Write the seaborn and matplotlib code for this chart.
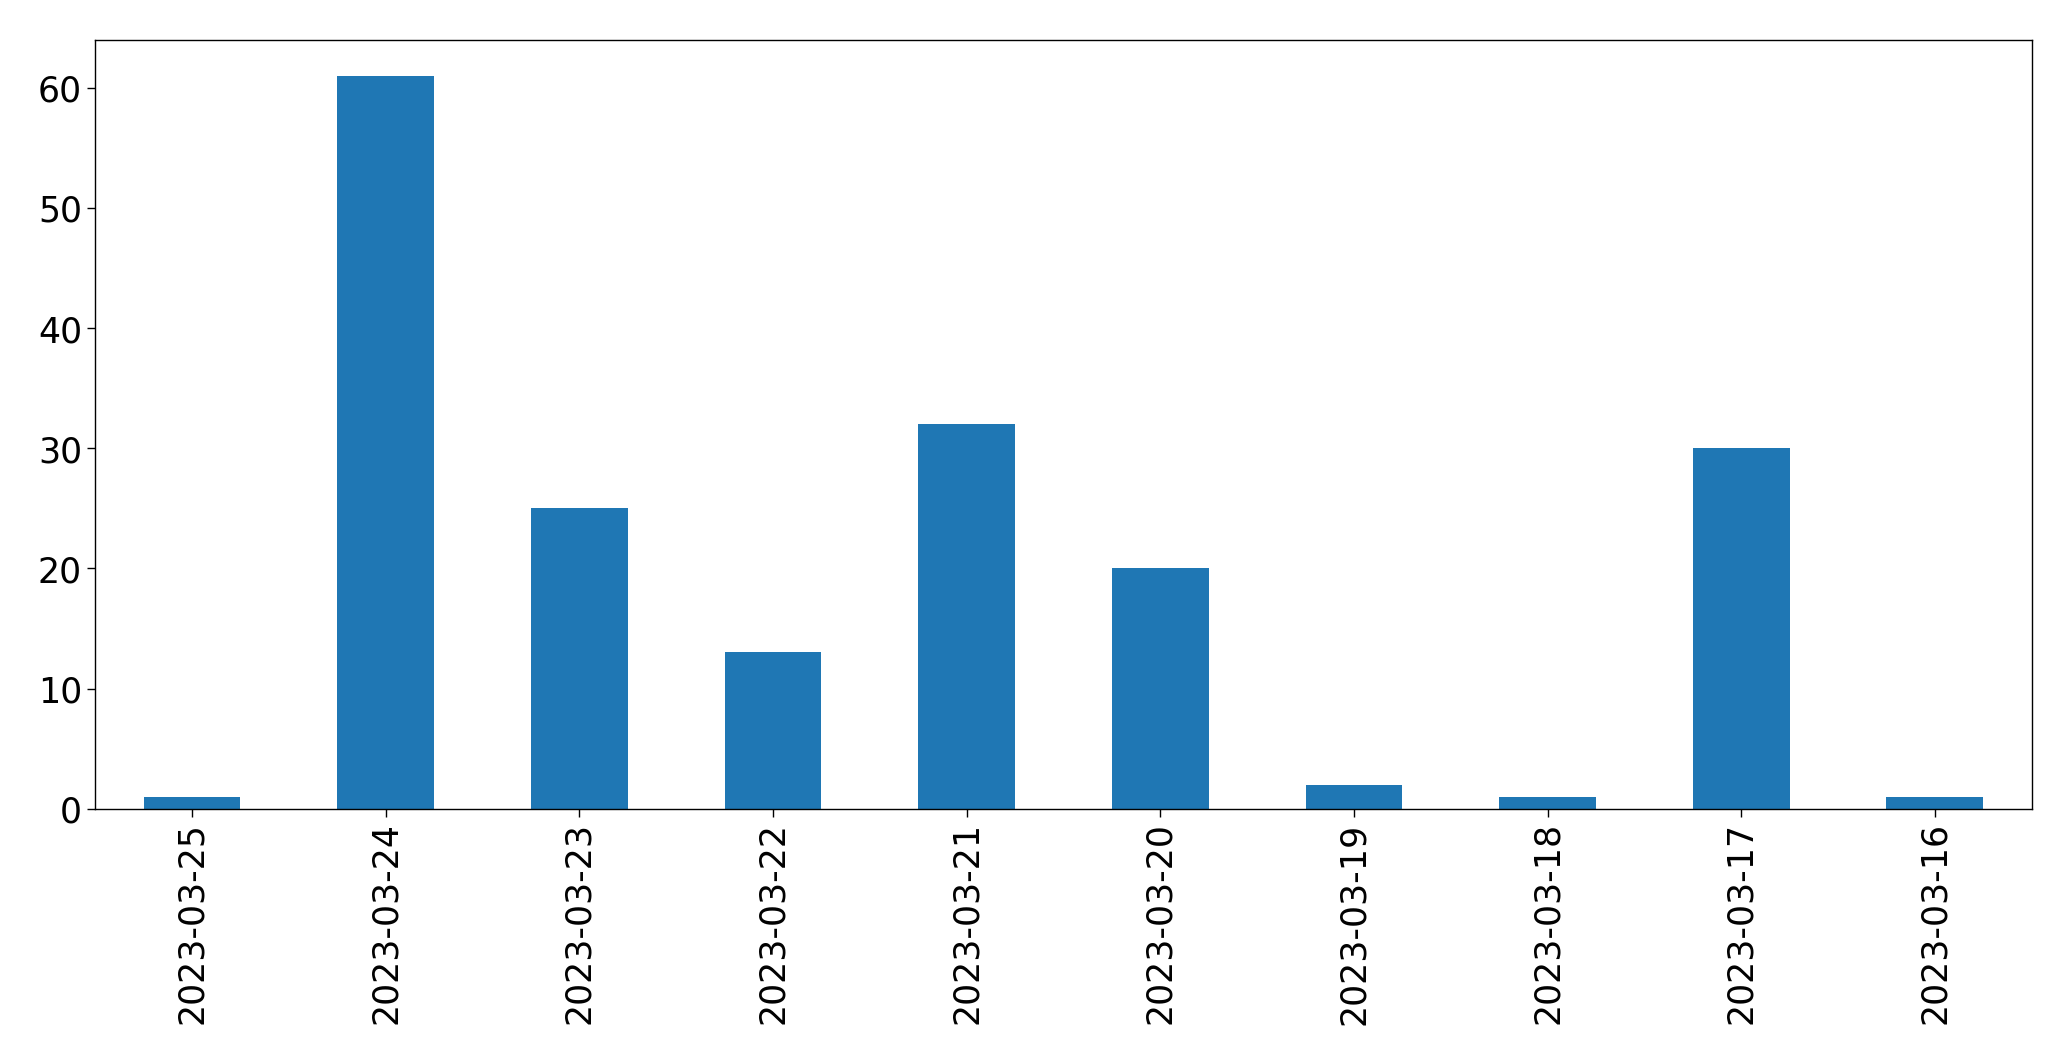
import matplotlib
matplotlib.use("Agg")
import matplotlib.pyplot as plt
import seaborn as sns
import pandas as pd

# data
dates = ["2023-03-25", "2023-03-24", "2023-03-23", "2023-03-22", "2023-03-21",
         "2023-03-20", "2023-03-19", "2023-03-18", "2023-03-17", "2023-03-16"]
counts = [1, 61, 25, 13, 32, 20, 2, 1, 30, 1]

df = pd.DataFrame({"date": dates, "count": counts})

sns.set_style("white")
plt.rcParams["font.family"] = ["DejaVu Sans"]

fig = plt.figure(figsize=(20.71, 10.605), dpi=100)
ax = fig.add_axes([0.046, 0.237, 0.935, 0.725])

sns.barplot(data=df, x="date", y="count", color="#1f77b4", saturation=1,
            width=0.5, ax=ax, order=dates, linewidth=0)

ax.set_xlabel("")
ax.set_ylabel("")
ax.set_xlim(-0.5, len(dates) - 0.5)
ax.set_ylim(0, 64)
ax.tick_params(axis="both", labelsize=25, length=6, width=1, bottom=True, left=True,
               colors="black")
plt.setp(ax.get_xticklabels(), rotation=90)
for s in ax.spines.values():
    s.set_color("black")
    s.set_linewidth(1)

fig.savefig("out.png", dpi=100)
